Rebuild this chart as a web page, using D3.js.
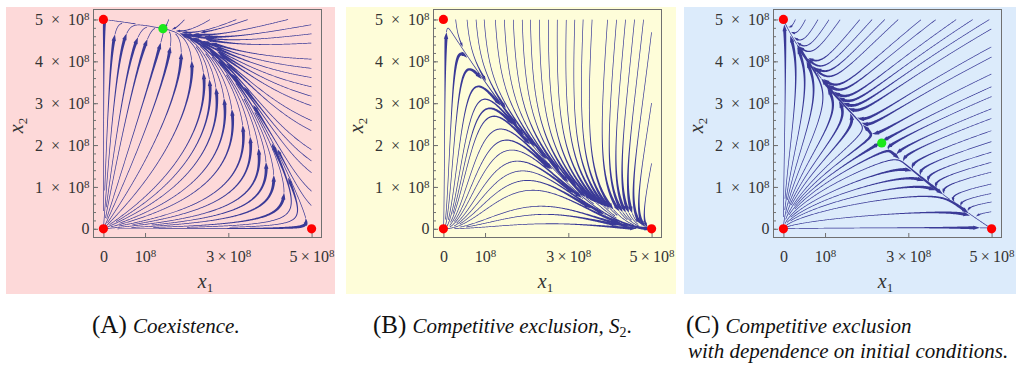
<!DOCTYPE html>
<html>
<head>
<meta charset="utf-8">
<script src="https://cdn.jsdelivr.net/npm/d3@7"></script>
<style>
  html, body { margin: 0; padding: 0; background: #ffffff; }
  svg { display: block; }
  text { font-family: "Liberation Serif", "Times New Roman", serif; }
</style>
</head>
<body>
<svg id="chart" width="1016" height="367"></svg>
<script>
// Lotka–Volterra competition between two strains S1, S2:
//   dx1/dt = r1 x1 (1 - (x1 + a12 x2)/K),  dx2/dt = r2 x2 (1 - (x2 + a21 x1)/K)
const carryingCapacity = 5e8;
const panelIds = ["A", "B", "C"];
const growthRates = [[1.0, 1.0], [1.0, 2.2], [1.0, 0.62]];            // [r1, r2]
const competitionCoeffs = [[0.747, 0.154], [0.5, 1.9], [1.288, 1.25]];  // [a12, a21]
const boundaryEquilibria = [[0, 0], [0, 5e8], [5e8, 0]];
const xTickValues = [0, 1e8, 3e8, 5e8];
const xTickLabels = [["0", ""], ["10", "8"], ["3\u2009×\u200910", "8"], ["5\u2009×\u200910", "8"]];
const yTickValues = [0, 1e8, 2e8, 3e8, 4e8, 5e8];
const yTickLabels = [["0", ""], ["1\u2002×\u200210", "8"], ["2\u2002×\u200210", "8"], ["3\u2002×\u200210", "8"], ["4\u2002×\u200210", "8"], ["5\u2002×\u200210", "8"]];
const yMinorTickValues = d3.range(0, 5.01e8, 0.2e8);
const panelFills = ["#fdd9d9", "#fefdd9", "#dcebfb"];
const captionTags = ["(A)", "(B)", "(C)"];
const captionLines = [
  ["Coexistence."],
  ["Competitive exclusion, "],
  ["Competitive exclusion", "with dependence on initial conditions."]
];

// layout
const frameLefts = [93, 433, 773];
const frameTop = 9, frameSize = 229;
const backgroundSpans = [[6, 335], [346, 676], [684, 1016]];
const streamColor = "#3a3a97";
const tickColor = "#707070";

const svg = d3.select("#chart");

function makeField(r, a) {
  return (u, v) => [r[0] * u * (1 - u - a[0] * v), r[1] * v * (1 - v - a[1] * u)];
}

// Evenly spaced streamlines (Jobard–Lefer style) in normalised coordinates u = x1/K, v = x2/K.
function traceStreams(field, dsep, dtest, h, minLen) {
  const cell = dsep;
  const buckets = new Map();
  const keyOf = (i, j) => i * 4096 + j;
  const add = p => {
    const k = keyOf(Math.floor(p[0] / cell) + 2, Math.floor(p[1] / cell) + 2);
    let b = buckets.get(k);
    if (!b) { b = []; buckets.set(k, b); }
    b.push(p);
  };
  const near = (p, r) => {
    const ci = Math.floor(p[0] / cell) + 2, cj = Math.floor(p[1] / cell) + 2, r2 = r * r;
    for (let di = -1; di <= 1; di++) for (let dj = -1; dj <= 1; dj++) {
      const b = buckets.get(keyOf(ci + di, cj + dj));
      if (!b) continue;
      for (const q of b) {
        const dx = q[0] - p[0], dy = q[1] - p[1];
        if (dx * dx + dy * dy < r2) return true;
      }
    }
    return false;
  };
  const dir = p => {
    const f = field(p[0], p[1]);
    const s = Math.hypot(f[0], f[1]);
    return s < 1e-5 ? null : [f[0] / s, f[1] / s];
  };
  const inside = p => p[0] >= 0 && p[0] <= 1 && p[1] >= 0 && p[1] <= 1;
  function integrate(seed, sign) {
    const pts = [];
    let p = seed, prev = null;
    for (let k = 0; k < 8000; k++) {
      const d1 = dir(p); if (!d1) break;
      const m = [p[0] + sign * d1[0] * h / 2, p[1] + sign * d1[1] * h / 2];
      const d2 = dir(m); if (!d2) break;
      if (prev && d2[0] * prev[0] + d2[1] * prev[1] < 0.5) break;
      const q = [p[0] + sign * d2[0] * h, p[1] + sign * d2[1] * h];
      if (!inside(q) || near(q, dtest)) break;
      pts.push(q); p = q; prev = d2;
    }
    return pts;
  }
  const lines = [], queue = [];
  function tryLine(seed) {
    if (!inside(seed) || near(seed, dsep * 0.9)) return;
    const back = integrate(seed, -1), fwd = integrate(seed, 1);
    const pts = back.reverse().concat([seed], fwd);
    if ((pts.length - 1) * h < minLen) return;
    lines.push(pts);
    pts.forEach(add);
    for (let k = 1; k < pts.length - 1; k += 6) {
      const tx = pts[k + 1][0] - pts[k - 1][0], ty = pts[k + 1][1] - pts[k - 1][1];
      const tl = Math.hypot(tx, ty) || 1;
      const nx = -ty / tl, ny = tx / tl;
      queue.push([pts[k][0] + nx * dsep, pts[k][1] + ny * dsep]);
      queue.push([pts[k][0] - nx * dsep, pts[k][1] - ny * dsep]);
    }
  }
  const n = Math.round(1 / dsep);
  for (let j = 0; j < n; j++) for (let i = 0; i < n; i++) {
    tryLine([(i + 0.5) / n, (j + 0.5) / n]);
    while (queue.length) tryLine(queue.shift());
  }
  return lines;
}

// Split a pixel polyline into tapered dashes, each ending in an arrowhead.
// `offset` is the arc length the stream would already have run before its first point.
function dashShapes(P, dashLen, offset) {
  const cum = [0];
  for (let i = 1; i < P.length; i++) cum.push(cum[i - 1] + Math.hypot(P[i][0] - P[i - 1][0], P[i][1] - P[i - 1][1]));
  const S = cum[cum.length - 1];
  if (S < 2) return [];
  const pointAt = s => {
    s = Math.max(0, Math.min(S, s));
    let lo = 0, hi = cum.length - 1;
    while (hi - lo > 1) { const mid = (lo + hi) >> 1; if (cum[mid] <= s) lo = mid; else hi = mid; }
    const seg = cum[hi] - cum[lo] || 1, t = (s - cum[lo]) / seg;
    return [P[lo][0] + (P[hi][0] - P[lo][0]) * t, P[lo][1] + (P[hi][1] - P[lo][1]) * t];
  };
  // pieces: [start, end, virtualStart, arrow]
  const pieces = [];
  if (S + offset < dashLen) {
    pieces.push([0, S, -offset, S > 0.2 * dashLen || offset === 0]);
  } else {
    let k = 1;
    let prev = 0, vStart = -offset;
    while (k * dashLen - offset <= S) {
      const end = k * dashLen - offset;
      if (end > 0) { pieces.push([prev, end, vStart, end - prev > 0.2 * dashLen]); prev = end; vStart = end; }
      k++;
    }
    if (S - prev > 1) pieces.push([prev, S, prev, S - prev > 0.55 * dashLen]);
  }
  return pieces.map(([s0, s1, vs, arrow]) => {
    const Lv = s1 - vs;                    // virtual dash length
    const wMin = 0.7;
    const wHead = arrow ? Math.min(3.0, 0.8 + Lv / 60) : 0.9;
    const ah = arrow ? Math.min(0.35 * (s1 - s0), 2.5 + 1.4 * wHead) : 0;
    const aw = wHead + 1.4;
    const width = s => {
      const sp = s - vs;
      if (sp <= Lv - ah) { const t = Math.max(0, sp / Math.max(Lv - ah, 1e-6)); return wMin + (wHead - wMin) * Math.pow(t, 5); }
      return aw * (Lv - sp) / ah;
    };
    const leftSide = [], rightSide = [];
    const L = s1 - s0;
    const steps = Math.max(2, Math.ceil(L / 0.8));
    for (let k = 0; k <= steps; k++) {
      const s = s0 + L * k / steps;
      const p = pointAt(s), a = pointAt(s - 0.6), b = pointAt(s + 0.6);
      const tx = b[0] - a[0], ty = b[1] - a[1], tl = Math.hypot(tx, ty) || 1;
      const nx = -ty / tl, ny = tx / tl, w = width(s) / 2;
      leftSide.push([p[0] + nx * w, p[1] + ny * w]);
      rightSide.push([p[0] - nx * w, p[1] - ny * w]);
      const sBase = s1 - ah;
      if (arrow && k < steps && s < sBase && s0 + L * (k + 1) / steps > sBase) {
        // barb at the arrow base
        const pb = pointAt(sBase);
        const wb = width(sBase - 1e-6) / 2, wa = aw / 2;
        leftSide.push([pb[0] + nx * wb, pb[1] + ny * wb], [pb[0] + nx * wa, pb[1] + ny * wa]);
        rightSide.push([pb[0] - nx * wb, pb[1] - ny * wb], [pb[0] - nx * wa, pb[1] - ny * wa]);
      }
    }
    const pts = leftSide.concat(rightSide.reverse());
    return "M" + pts.map(p => p[0].toFixed(2) + "," + p[1].toFixed(2)).join("L") + "Z";
  });
}

function writeTickLabel(sel, parts, size) {
  sel.text("").attr("fill", "#333").style("font-size", size + "px");
  sel.append("tspan").text(parts[0]);
  if (parts[1]) sel.append("tspan").attr("dy", "-0.42em").style("font-size", Math.round(size * 0.7) + "px").text(parts[1]);
}

panelIds.forEach((pid, i) => {
  const left = frameLefts[i];
  const g = svg.append("g").attr("class", "panel-" + pid);

  g.append("rect")
    .attr("x", backgroundSpans[i][0]).attr("y", 7)
    .attr("width", backgroundSpans[i][1] - backgroundSpans[i][0]).attr("height", 287)
    .attr("fill", panelFills[i]);

  const x = d3.scaleLinear().domain([-0.25e8, 5.25e8]).range([left, left + frameSize]);
  const y = d3.scaleLinear().domain([-0.22e8, 5.25e8]).range([frameTop + frameSize, frameTop]);

  const clipId = "clip-" + pid;
  g.append("clipPath").attr("id", clipId).append("rect")
    .attr("x", left).attr("y", frameTop).attr("width", frameSize).attr("height", frameSize);

  // streamlines
  const K = carryingCapacity;
  const field = makeField(growthRates[i], competitionCoeffs[i]);
  const lines = traceStreams(field, 0.043, 0.006, 0.002, 0.04);
  const streams = g.append("g").attr("clip-path", `url(#${clipId})`).attr("fill", streamColor);
  const ox = x(0), oy = y(0);
  lines.forEach(line => {
    const P = line.map(p => [x(p[0] * K), y(p[1] * K)]);
    const s = line[0];
    const onEdge = s[0] < 1e-3 || s[1] < 1e-3 || s[0] > 1 - 1e-2 || s[1] > 1 - 1e-2;
    const dO = Math.hypot(P[0][0] - ox, P[0][1] - oy);
    const offset = (!onEdge && dO < 70) ? dO : 0;
    dashShapes(P, 195, offset).forEach(d => streams.append("path").attr("d", d));
  });

  // frame
  g.append("rect")
    .attr("x", left + 0.5).attr("y", frameTop + 0.5)
    .attr("width", frameSize - 1).attr("height", frameSize - 1)
    .attr("fill", "none").attr("stroke", tickColor).attr("stroke-width", 1);

  // minor ticks on the x2 axis
  const yMinor = g.append("g").attr("transform", `translate(${left + 0.5},0)`)
    .call(d3.axisLeft(y).tickValues(yMinorTickValues).tickSize(-2.5).tickFormat(""));
  yMinor.select(".domain").remove();
  yMinor.selectAll("line").attr("stroke", tickColor);

  // x1 axis
  const xAxis = g.append("g").attr("transform", `translate(0,${frameTop + frameSize - 0.5})`)
    .call(d3.axisBottom(x).tickValues(xTickValues).tickSizeInner(-4.5).tickSizeOuter(0).tickPadding(13));
  xAxis.attr("font-family", null).select(".domain").remove();
  xAxis.selectAll("line").attr("stroke", tickColor);
  xAxis.selectAll("text").each(function (d, k) { writeTickLabel(d3.select(this), xTickLabels[k], 16); });

  // x2 axis
  const yAxis = g.append("g").attr("transform", `translate(${left + 0.5},0)`)
    .call(d3.axisLeft(y).tickValues(yTickValues).tickSizeInner(-4.5).tickSizeOuter(0).tickPadding(4));
  yAxis.attr("font-family", null).select(".domain").remove();
  yAxis.selectAll("line").attr("stroke", tickColor);
  yAxis.selectAll("text").each(function (d, k) { writeTickLabel(d3.select(this), yTickLabels[k], 16); });

  // axis titles
  const xt = g.append("text").attr("x", left + frameSize / 2 - 2).attr("y", 288)
    .attr("text-anchor", "middle").attr("fill", "#333").style("font-size", "20px");
  xt.append("tspan").style("font-style", "italic").text("x");
  xt.append("tspan").attr("dy", "4").style("font-size", "13px").text("1");

  const ytg = g.append("g").attr("transform", `translate(${left - 70},${frameTop + frameSize / 2 + 2}) rotate(-90)`);
  const yt = ytg.append("text").attr("text-anchor", "middle").attr("fill", "#333").style("font-size", "20px");
  yt.append("tspan").style("font-style", "italic").text("x");
  yt.append("tspan").attr("dy", "4").style("font-size", "13px").text("2");

  // equilibria
  const [a12, a21] = competitionCoeffs[i];
  const det = 1 - a12 * a21;
  const coexist = [K * (1 - a12) / det, K * (1 - a21) / det];
  boundaryEquilibria.forEach(e => {
    g.append("circle").attr("cx", x(e[0])).attr("cy", y(e[1])).attr("r", 4.6).attr("fill", "#ff0000");
  });
  if (coexist[0] > 0 && coexist[1] > 0) {
    g.append("circle").attr("cx", x(coexist[0])).attr("cy", y(coexist[1])).attr("r", 4.6).attr("fill", "#1be81b");
  }
});

// captions
const captionX = [92, 373, 686];
panelIds.forEach((pid, i) => {
  const t = svg.append("text").attr("x", captionX[i]).attr("y", 333).attr("fill", "#111");
  t.append("tspan").style("font-size", "25px").text(captionTags[i] + " ");
  t.append("tspan").style("font-size", "21px").style("font-style", "italic").text(captionLines[i][0]);
  if (pid === "B") {
    t.append("tspan").style("font-size", "21px").style("font-style", "italic").text("S");
    t.append("tspan").style("font-size", "14px").attr("dy", "4").text("2");
    t.append("tspan").style("font-size", "21px").attr("dy", "-4").text(".");
  }
  if (captionLines[i][1]) {
    svg.append("text").attr("x", captionX[i] + 2).attr("y", 358).attr("fill", "#111")
      .style("font-size", "21px").style("font-style", "italic").text(captionLines[i][1]);
  }
});
</script>
</body>
</html>
